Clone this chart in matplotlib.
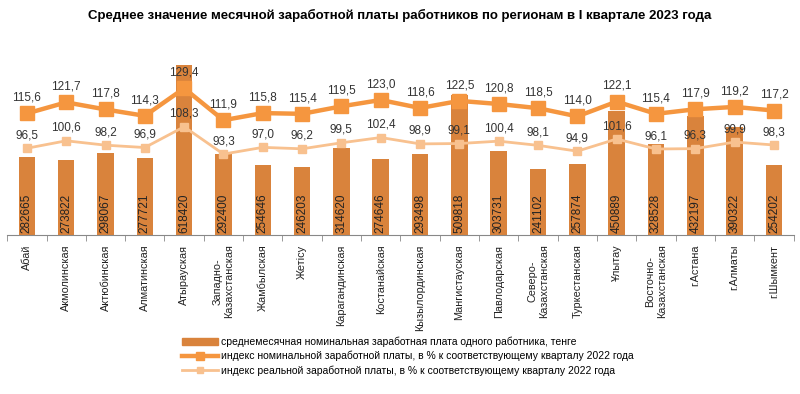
import matplotlib
matplotlib.use("Agg")
import matplotlib.pyplot as plt
import numpy as np
from matplotlib.lines import Line2D
from matplotlib.patches import Patch

regions = ["Абай", "Акмолинская", "Актюбинская", "Алматинская", "Атырауская",
           "Западно-\nКазахстанская", "Жамбылская", "Жетісу", "Карагандинская",
           "Костанайская", "Кызылординская", "Мангистауская", "Павлодарская",
           "Северо-\nКазахстанская", "Туркестанская", "Ұлытау", "Восточно-\nКазахстанская",
           "г.Астана", "г.Алматы", "г.Шымкент"]
wages = [282665, 273822, 298067, 277721, 618420, 292400, 254646, 246203, 314620, 274646,
         293498, 509818, 303731, 241102, 257874, 450889, 328528, 432197, 390322, 254202]
nominal = [115.6, 121.7, 117.8, 114.3, 129.4, 111.9, 115.8, 115.4, 119.5, 123.0,
           118.6, 122.5, 120.8, 118.5, 114.0, 122.1, 115.4, 117.9, 119.2, 117.2]
real = [96.5, 100.6, 98.2, 96.9, 108.3, 93.3, 97.0, 96.2, 99.5, 102.4,
        98.9, 99.1, 100.4, 98.1, 94.9, 101.6, 96.1, 96.3, 99.9, 98.3]

bar_c = "#D9833C"
nom_c = "#F5963F"
real_c = "#F8C18F"

plt.rcParams['font.family'] = ['Liberation Sans', 'DejaVu Sans']
fig = plt.figure(figsize=(8, 3.94), dpi=100)
ax = fig.add_axes([0.009, 0.404, 0.983, 0.444])
x = np.arange(len(regions))
ax.bar(x, wages, width=0.42, color=bar_c, zorder=1)
ax.set_ylim(0, 636000)
ax.set_xlim(-0.5, len(regions) - 0.5)
for xi, v in zip(x, wages):
    ax.text(xi, 6000, f"{v}", rotation=90, ha="center", va="bottom",
            fontsize=8.5, color="#222222", zorder=5)
for s in ["top", "right", "left"]:
    ax.spines[s].set_visible(False)
ax.spines["bottom"].set_color("#888888")
ax.set_yticks([])
ax.set_xticks(x)
ax.set_xticklabels(regions, rotation=90, fontsize=7.8, va="top", ha="center",
                   multialignment="center", color="#222222")
ax.tick_params(axis="x", length=0, pad=7)
ax.set_xticks(np.arange(-0.5, len(regions), 1), minor=True)
ax.tick_params(axis="x", which="minor", length=4, color="#888888")

ax2 = ax.twinx()
ax2.set_ylim(49, 145)
ax2.plot(x, nominal, color=nom_c, lw=3.2, marker="s", ms=10, zorder=3)
ax2.plot(x, real, color=real_c, lw=2, marker="s", ms=6, zorder=3)
for xi, v in zip(x, nominal):
    ax2.annotate(f"{v:.1f}".replace(".", ","), (xi, v), xytext=(0, 7),
                 textcoords="offset points", ha="center", va="bottom", fontsize=8.5, color="#333333")
for xi, v in zip(x, real):
    ax2.annotate(f"{v:.1f}".replace(".", ","), (xi, v), xytext=(0, 5),
                 textcoords="offset points", ha="center", va="bottom", fontsize=8.5, color="#333333")
ax2.axis("off")

fig.suptitle("Среднее значение месячной заработной платы работников по регионам в I квартале 2023 года",
             fontsize=9.5, fontweight="bold", y=0.978)

handles = [Patch(color=bar_c),
           Line2D([], [], color=nom_c, lw=3.2, marker="s", ms=6),
           Line2D([], [], color=real_c, lw=2, marker="s", ms=5)]
labels = ["среднемесячная номинальная заработная плата одного работника, тенге",
          "индекс номинальной заработной платы, в % к соответствующему кварталу 2022 года",
          "индекс реальной заработной платы, в % к соответствующему кварталу 2022 года"]
fig.legend(handles, labels, loc="upper left", bbox_to_anchor=(0.228, 0.145),
           frameon=False, fontsize=7.5, handlelength=3.4, labelspacing=0.35,
           handletextpad=0.3, borderaxespad=0, borderpad=0)
fig.savefig("out.png", dpi=100)
